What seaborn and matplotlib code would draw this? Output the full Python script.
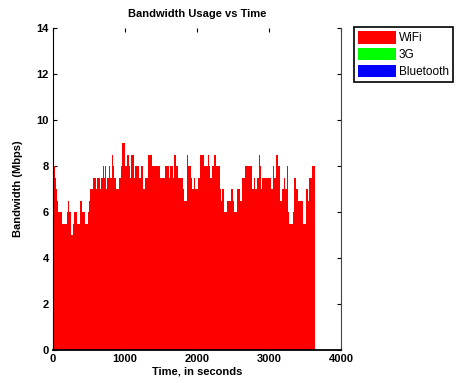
import numpy as np
import matplotlib
matplotlib.use("Agg")
import matplotlib.pyplot as plt
import seaborn as sns

# Bandwidth samples (Mbps), roughly one sample per 14 s
wifi = [8, 8, 7.5, 7, 6.5, 6, 6, 6, 6, 5.5, 5.5, 5.5, 5.5, 5.5, 6, 6.5, 6, 6, 5, 5,
        5.5, 6, 6, 6, 5.5, 5.5, 5.5, 6.5, 6.5, 6, 6, 6, 5.5, 5.5, 5.5, 6, 6.5, 7, 7, 7,
        7.5, 7.5, 7.5, 7, 7.5, 7.5, 7.5, 7, 7.5, 7.5, 8, 7.5, 8, 7, 7.5, 7.5, 8, 7.5, 7.5, 8.5,
        8, 7.5, 7.5, 7, 7, 7, 7.5, 7.5, 8, 9, 9, 9, 8, 8, 8.5, 8.5, 8, 7.5, 8.5, 8.5,
        8.5, 7.5, 8, 8, 8, 8, 7.5, 7.5, 8, 8, 7, 7, 7.5, 7.5, 7.5, 8.5, 8.5, 8.5, 8.5, 8,
        8, 8, 8, 8, 8, 8, 8, 7.5, 7.5, 7.5, 7.5, 7.5, 8, 8, 8, 8, 7.5, 8, 8, 8,
        7.5, 8.5, 8.5, 8, 8, 7.5, 7.5, 7.5, 7.5, 7, 6.5, 6.5, 6.5, 8.5, 8, 8, 8, 7.5, 7, 7,
        7.5, 7, 7, 7, 7.5, 7.5, 8.5, 8.5, 8.5, 8.5, 8, 8, 8, 8, 8.5, 8, 7.5, 7.5, 8, 8,
        8.5, 8.5, 8, 8, 8, 8, 7, 6.5, 7, 7, 6, 6, 6, 6.5, 6.5, 6.5, 6.5, 7, 7, 6.5,
        6, 6, 6, 7, 7, 7, 6.5, 6.5, 7.5, 7.5, 7.5, 8, 8, 8, 8, 8, 8, 8, 7, 7,
        7.5, 7, 7, 7.5, 7.5, 8.5, 8, 7, 7.5, 7.5, 7.5, 7.5, 7.5, 7.5, 7.5, 7.5, 7.5, 7, 7, 8,
        7.5, 7.5, 8.5, 8.5, 8, 8, 6.5, 6.5, 7, 7, 7.5, 7, 7, 8, 6, 5.5, 5.5, 5.5, 5.5, 6,
        7.5, 7.5, 7, 7, 6.5, 6.5, 6.5, 6.5, 6.5, 5.5, 5.5, 7, 7, 6.5, 7.5, 7.5, 7.5, 8, 8, 8]
threeg = [0] * len(wifi)
bluetooth = [0] * len(wifi)
times = np.arange(len(wifi)) * 14

sns.set_style("ticks")
plt.rcParams["font.family"] = ["Liberation Sans", "DejaVu Sans"]
plt.rcParams["text.color"] = "black"
plt.rcParams["axes.labelcolor"] = "black"
plt.rcParams["xtick.color"] = "black"
plt.rcParams["ytick.color"] = "black"
plt.rcParams["axes.edgecolor"] = "black"

fig = plt.figure(figsize=(4.59, 3.83), dpi=100)
ax = fig.add_axes([53 / 459, 33 / 383, 288 / 459, 322 / 383])

sns.barplot(x=times, y=wifi, native_scale=True, color="#ff0000", saturation=1,
            width=1.0, linewidth=0, errorbar=None, label="WiFi", ax=ax)
sns.barplot(x=times, y=threeg, native_scale=True, color="#00ff00", saturation=1,
            width=1.0, linewidth=0, errorbar=None, label="3G", ax=ax)
sns.barplot(x=times, y=bluetooth, native_scale=True, color="#0000ff", saturation=1,
            width=1.0, linewidth=0, errorbar=None, label="Bluetooth", ax=ax)

ax.set_xlim(0, 4000)
ax.set_ylim(0, 14)
ax.set_xticks([0, 1000, 2000, 3000, 4000])
ax.set_yticks(range(0, 15, 2))
ax.tick_params(direction="in", length=3, width=0.8, top=True, right=True,
               labelsize=8, pad=3)
for lbl in ax.get_xticklabels() + ax.get_yticklabels():
    lbl.set_fontweight("bold")
ax.spines["top"].set_visible(False)
ax.spines["bottom"].set_linewidth(1.3)
ax.spines["right"].set_color("#444444")

ax.set_title("Bandwidth Usage vs Time", fontsize=8, fontweight="bold", pad=8)
ax.set_xlabel("Time, in seconds", fontsize=8, fontweight="bold", labelpad=2)
ax.set_ylabel("Bandwidth (Mbps)", fontsize=8, fontweight="bold", labelpad=10)

leg = ax.legend(loc="upper left", bbox_to_anchor=(354 / 459, 1 - 27 / 383),
                bbox_transform=fig.transFigure, borderaxespad=0, fontsize=8.5,
                handlelength=3.2, handleheight=1.25, labelspacing=0.3,
                handletextpad=0.25, borderpad=0.35, fancybox=False,
                framealpha=1, edgecolor="black")
leg.get_frame().set_linewidth(1.2)

fig.savefig("out.png", dpi=100)
